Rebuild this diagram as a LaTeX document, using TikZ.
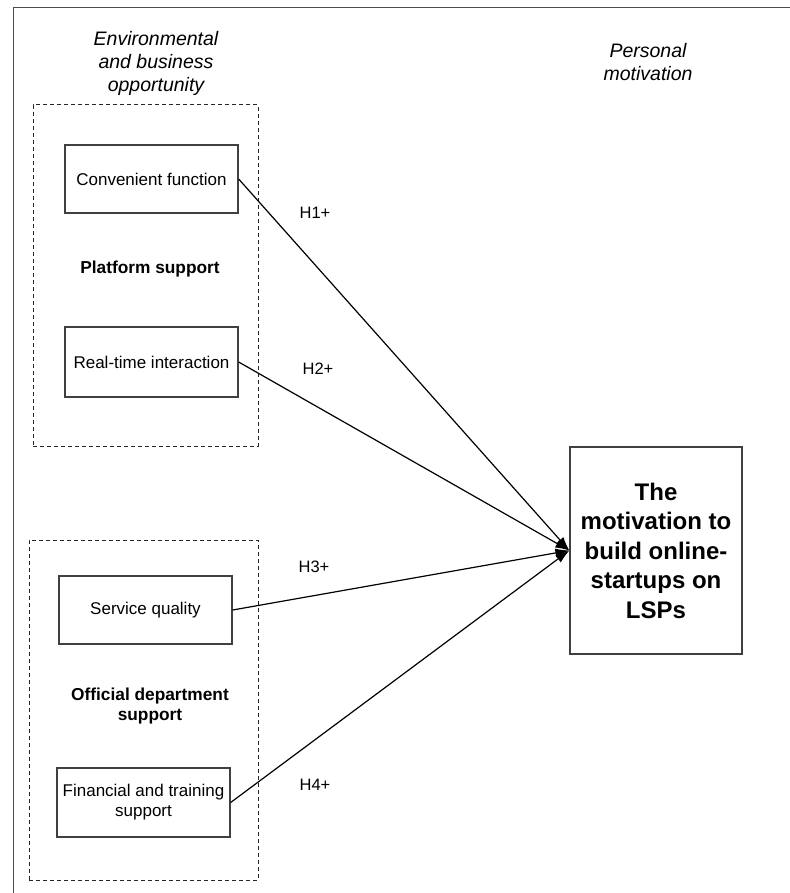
\documentclass[tikz,border=0pt]{standalone}
\usepackage{fontspec}
\setmainfont{Liberation Sans}
\usetikzlibrary{arrows.meta}
\begin{document}
\begin{tikzpicture}[x=1pt,y=-1pt,
  factor/.style={draw=black!75, line width=1.3pt, minimum width=173pt,
    minimum height=68pt, align=center, inner sep=2pt,
    font=\fontsize{17}{20}\selectfont},
  group/.style={draw=black!85, dash pattern=on 4pt off 3pt, line width=1pt,
    inner sep=0pt},
  outcome/.style={draw=black!75, line width=1.3pt, minimum width=172pt,
    minimum height=207pt, align=center,
    font=\bfseries\fontsize{24}{29.5}\selectfont},
  link/.style={-{Latex[length=14pt,width=9pt]}, line width=1.2pt},
  hyp/.style={font=\fontsize{16.5}{20}\selectfont},
  grouplabel/.style={align=center, font=\bfseries\fontsize{17.3}{20}\selectfont},
  heading/.style={align=center, font=\itshape\fontsize{19.5}{23}\selectfont}]
\useasboundingbox (0,0) rectangle (789,893);

% outer frame (runs off the right and bottom edges)
\draw[black!70, line width=1.3pt] (13.5,910) -- (13.5,7.5) -- (810,7.5);

% column headings
\node[heading] (envhead) at (156,63) {Environmental\\and business\\opportunity};
\node[heading] (perhead) at (648,62) {Personal\\motivation};

% dashed groups
\node[group, minimum width=225pt, minimum height=341pt] (platgrp) at (145.5,275.5) {};
\node[group, minimum width=229pt, minimum height=340pt] (offgrp) at (143.5,710) {};

% factors
\node[factor] (conv) at (151.5,179) {Convenient function};
\node[factor, minimum height=70pt] (rti) at (151.5,362) {Real-time interaction};
\node[factor] (sq) at (145.5,610) {Service quality};
\node[factor, minimum height=69pt] (fin) at (143.5,802.5) {Financial and training\\support};

\node[grouplabel] (platlbl) at (150,269) {Platform support};
\node[grouplabel] (offlbl) at (150,706) {Official department\\support};

% dependent variable
\node[outcome] (mot) at (656,550.5) {The\\motivation to\\build online-\\startups on\\LSPs};

% hypotheses
\draw[link] (conv.east) -- (mot.west);
\draw[link] (rti.east) -- (mot.west);
\draw[link] (sq.east) -- (mot.west);
\draw[link] (fin.east) -- (mot.west);

\node[hyp] (h1) at (315,213) {H1+};
\node[hyp] (h2) at (318,369) {H2+};
\node[hyp] (h3) at (314,567) {H3+};
\node[hyp] (h4) at (315,785) {H4+};
\end{tikzpicture}
\end{document}
